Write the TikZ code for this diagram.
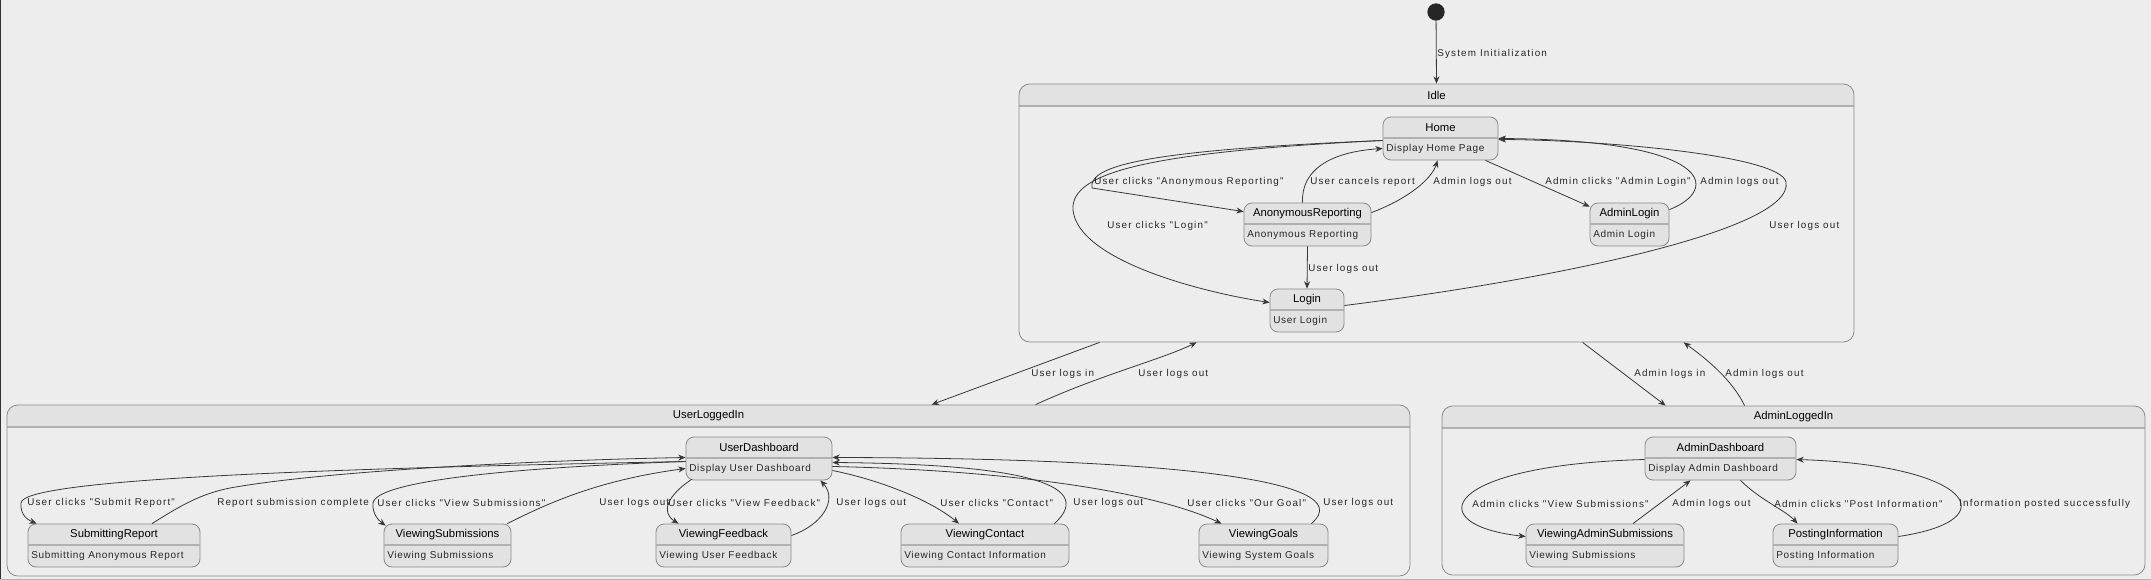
\documentclass[tikz,border=0pt]{standalone}
\usepackage{fontspec}
\setmainfont{Liberation Sans}
\newfontfamily\lblfont[LetterSpace=12]{Liberation Sans}
\newfontfamily\descfont[LetterSpace=7]{Liberation Sans}
\usetikzlibrary{arrows.meta, fit, calc}

\definecolor{bgcol}{HTML}{EDEDED}
\definecolor{stfill}{HTML}{E2E2E2}
\definecolor{bordercol}{HTML}{8A8A8A}
\definecolor{sepcol}{HTML}{B0B0B0}
\definecolor{arrowcol}{HTML}{383838}

\tikzset{
  stbox/.style={draw=bordercol, fill=stfill, rounded corners=6pt, inner sep=0pt, line width=0.6pt},
  cbox/.style={draw=bordercol, rounded corners=8pt, inner sep=0pt, line width=0.6pt},
  sepline/.style={draw=sepcol, line width=0.9pt},
  sttitle/.style={font=\fontsize{8.5}{10}\selectfont, inner sep=0pt},
  stdesc/.style={font=\descfont\fontsize{7.5}{9}\selectfont, anchor=west, inner sep=0pt, text=black!85},
  trlabel/.style={font=\lblfont\fontsize{7.4}{9}\selectfont, anchor=west, inner sep=0pt, text=black!85},
  transit/.style={draw=arrowcol, line width=0.6pt, -{Stealth[length=5.5pt,width=4.5pt]}},
  initdot/.style={circle, fill=black!85, minimum size=13pt, inner sep=0pt},
}

% name, left, top, right, title, text
\newcommand{\simplestate}[6]{%
  \node[stbox, fit={(#2,#3) (#4,{#3+43})}] (#1) {};
  \draw[sepline] (#2,{#3+21}) -- (#4,{#3+21});
  \node[sttitle] (#1-t) at ({(#2+#4)/2},{#3+10.5}) {#5};
  \node[stdesc] (#1-d) at ({#2+3},{#3+32}) {#6};
}
% name, left, top, right, bottom, title
\newcommand{\compstate}[6]{%
  \begin{scope}
    \clip[rounded corners=8pt] (#2,#3) rectangle (#4,#5);
    \fill[stfill] (#2,#3) rectangle (#4,{#3+22});
  \end{scope}
  \draw[sepline] (#2,{#3+22}) -- (#4,{#3+22});
  \node[cbox, fit={(#2,#3) (#4,#5)}] (#1) {};
  \node[sttitle] (#1-t) at ({(#2+#4)/2},{#3+11}) {#6};
}

\begin{document}
\begin{tikzpicture}[x=0.75pt, y=-0.75pt]
  \fill[bgcol] (0,0) rectangle (2151,580);
  \useasboundingbox (0,0) rectangle (2151,580);
  \draw[black!80, line width=1.5pt] (0,0) -- (0,580);
  \draw[gray!60, line width=0.75pt] (0,579) -- (2151,579);

  % composite states
  \compstate{idle}{1019}{84}{1854}{342}{Idle}
  \compstate{ul}{7}{405}{1410}{576}{UserLoggedIn}
  \compstate{al}{1442}{406}{2145}{575}{AdminLoggedIn}

  \node[initdot] (init) at (1436,12) {};

  % inside Idle
  \simplestate{home}{1383}{117}{1498}{Home}{Display Home Page}
  \simplestate{anon}{1244}{203}{1371}{AnonymousReporting}{Anonymous Reporting}
  \simplestate{adminlogin}{1590}{203}{1669}{AdminLogin}{Admin Login}
  \simplestate{login}{1270}{289}{1344}{Login}{User Login}

  % inside UserLoggedIn
  \simplestate{ud}{686}{437}{832}{UserDashboard}{Display User Dashboard}
  \simplestate{sr}{28}{524}{200}{SubmittingReport}{Submitting Anonymous Report}
  \simplestate{vs}{384}{524}{511}{ViewingSubmissions}{Viewing Submissions}
  \simplestate{vf}{656}{524}{791}{ViewingFeedback}{Viewing User Feedback}
  \simplestate{vc}{901}{524}{1069}{ViewingContact}{Viewing Contact Information}
  \simplestate{vg}{1199}{524}{1328}{ViewingGoals}{Viewing System Goals}

  % inside AdminLoggedIn
  \simplestate{ad}{1645}{437}{1796}{AdminDashboard}{Display Admin Dashboard}
  \simplestate{vas}{1526}{524}{1684}{ViewingAdminSubmissions}{Viewing Submissions}
  \simplestate{pi}{1773}{524}{1898}{PostingInformation}{Posting Information}

  % transitions in Idle
  \draw[transit] (init) -- (idle.north);
  \draw[transit] ($(home.west)+(0,2)$) .. controls (1150,150) and (1088,165) .. (1092,188) -- ($(anon.north west)+(0,9)$);
  \draw[transit] ($(home.west)+(0,2)$) .. controls (1150,152) and (1070,172) .. (1073,210) .. controls (1078,260) and (1200,292) .. ($(login.west)+(0,-8)$);
  \draw[transit] ($(anon.north)+(-5,0)$) .. controls (1301,170) and (1330,152) .. ($(home.west)+(0,10)$);
  \draw[transit] ($(anon.north east)+(0,10)$) .. controls (1410,198) and (1432,178) .. ($(home.south)+(-3,0)$);
  \draw[transit] ($(home.south east)+(-13,0)$) -- ($(adminlogin.north west)+(0,4)$);
  \draw[transit] ($(adminlogin.north east)+(0,7)$) .. controls (1720,190) and (1715,140) .. (home.east);
  \draw[transit] ($(login.east)+(0,-5)$) .. controls (1550,280) and (1795,230) .. (1786,182) .. controls (1780,155) and (1600,140) .. ($(home.east)+(0,1)$);
  \draw[transit] (anon.south) -- (login.north);

  % between composite states
  \draw[transit] ($(idle.south west)+(81,0)$) -- ($(ul.north west)+(925,0)$);
  \draw[transit] ($(ul.north west)+(1029,0)$) .. controls (1100,375) and (1160,360) .. ($(idle.south west)+(178,0)$);
  \draw[transit] ($(idle.south west)+(564,0)$) -- ($(al.north west)+(224,0)$);
  \draw[transit] ($(al.north west)+(303,0)$) .. controls (1732,380) and (1708,360) .. ($(idle.south west)+(665,0)$);

  % transitions in UserLoggedIn
  \draw[transit] ($(ud.west)+(0,3)$) .. controls (350,468) and (22,478) .. (21,503) .. controls (20,515) and (28,520) .. ($(sr.north west)+(9,0)$);
  \draw[transit] ($(sr.north)+(38,0)$) .. controls (180,506) and (200,494) .. (230,488) .. controls (330,470) and (550,460) .. ($(ud.west)+(0,-1)$);
  \draw[transit] ($(ud.west)+(0,3)$) .. controls (500,468) and (376,482) .. (373,503) .. controls (372,513) and (378,520) .. ($(vs.north west)+(2,2)$);
  \draw[transit] ($(vs.north east)+(-4,0)$) .. controls (550,502) and (600,480) .. ($(ud.west)+(0,10)$);
  \draw[transit] ($(ud.south west)+(6,-1)$) .. controls (668,495) and (660,512) .. ($(vf.north)+(-45,0)$);
  \draw[transit] ($(vf.east)+(0,-10)$) .. controls (822,525) and (838,500) .. ($(ud.south east)+(-12,0)$);
  \draw[transit] ($(ud.east)+(0,12)$) .. controls (880,480) and (930,500) .. ($(vc.north)+(-26,0)$);
  \draw[transit] ($(vc.north east)+(-15,0)$) .. controls (1100,482) and (1010,464) .. ($(ud.east)+(0,4)$);
  \draw[transit] ($(ud.east)+(0,8)$) .. controls (1000,470) and (1150,490) .. ($(vg.north)+(-42,0)$);
  \draw[transit] ($(vg.north east)+(-17,0)$) .. controls (1365,478) and (1150,458) .. ($(ud.east)+(0,-1)$);

  % transitions in AdminLoggedIn
  \draw[transit] ($(ad.west)+(0,1)$) .. controls (1440,465) and (1420,525) .. ($(vas.west)+(0,-9)$);
  \draw[transit] ($(vas.north)+(28,0)$) -- ($(ad.south)+(-30,0)$);
  \draw[transit] ($(ad.south)+(20,0)$) .. controls (1760,500) and (1785,510) .. ($(pi.north)+(-38,0)$);
  \draw[transit] ($(pi.east)+(0,-9)$) .. controls (2010,520) and (1970,465) .. ($(ad.east)+(0,1)$);

  % labels
  \node[trlabel] (l-init) at (1437,54) {System Initialization};
  \node[trlabel] (l-anon) at (1094,182) {User clicks "Anonymous Reporting"};
  \node[trlabel] (l-cancel) at (1310,182) {User cancels report};
  \node[trlabel] (l-anonout) at (1433,182) {Admin logs out};
  \node[trlabel] (l-adlogin) at (1545,182) {Admin clicks "Admin Login"};
  \node[trlabel] (l-adlogout) at (1700,182) {Admin logs out};
  \node[trlabel] (l-login) at (1107,226) {User clicks "Login"};
  \node[trlabel] (l-loginout) at (1769,226) {User logs out};
  \node[trlabel] (l-anonlogin) at (1308,269) {User logs out};
  \node[trlabel] (l-ulin) at (1031,374) {User logs in};
  \node[trlabel] (l-ulout) at (1138,374) {User logs out};
  \node[trlabel] (l-alin) at (1634,374) {Admin logs in};
  \node[trlabel] (l-alout) at (1725,374) {Admin logs out};
  \node[trlabel] (l-sr) at (27,503) {User clicks "Submit Report"};
  \node[trlabel] (l-srdone) at (217,503) {Report submission complete};
  \node[trlabel] (l-vs) at (377,503) {User clicks "View Submissions"};
  \node[trlabel] (l-vsout) at (599,503) {User logs out};
  \node[trlabel] (l-vf) at (668,503) {User clicks "View Feedback"};
  \node[trlabel] (l-vfout) at (836,503) {User logs out};
  \node[trlabel] (l-vc) at (940,503) {User clicks "Contact"};
  \node[trlabel] (l-vcout) at (1073,503) {User logs out};
  \node[trlabel] (l-vg) at (1187,503) {User clicks "Our Goal"};
  \node[trlabel] (l-vgout) at (1323,503) {User logs out};
  \node[trlabel] (l-vas) at (1472,504) {Admin clicks "View Submissions"};
  \node[trlabel] (l-vasout) at (1672,504) {Admin logs out};
  \node[trlabel] (l-pi) at (1774,504) {Admin clicks "Post Information"};
  \node[trlabel] (l-pidone) at (1959,504) {Information posted successfully};
\end{tikzpicture}
\end{document}
